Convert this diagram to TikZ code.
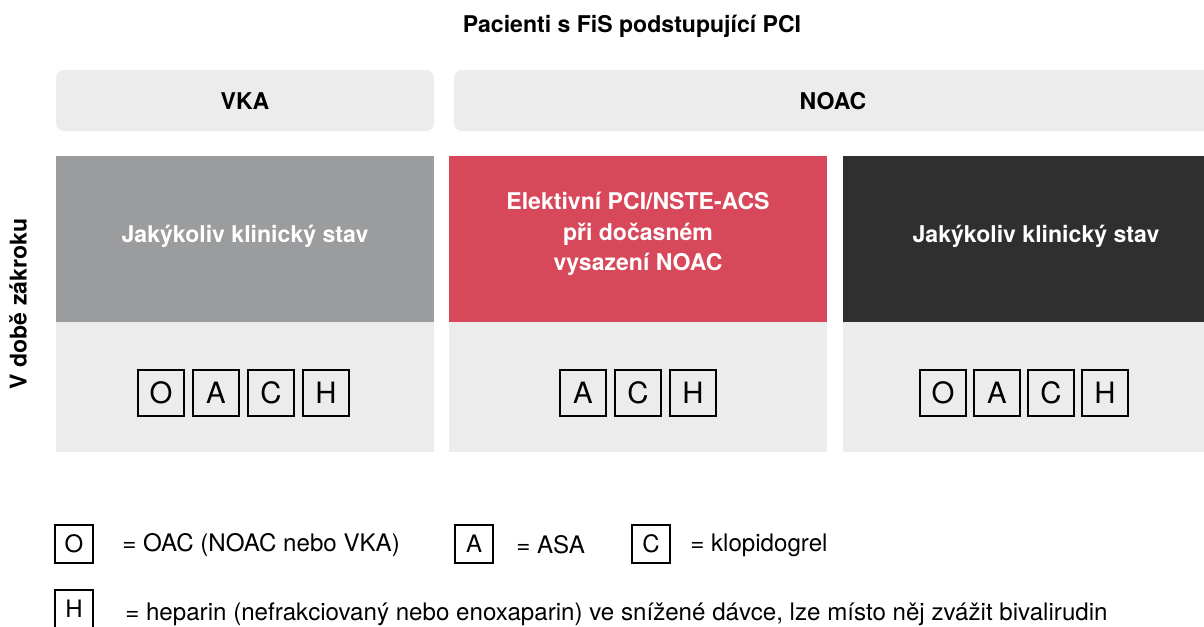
\documentclass[tikz,border=0pt]{standalone}
\usepackage{fontspec}
\setmainfont{TeX Gyre Heros}
\usetikzlibrary{positioning}
\definecolor{lightbg}{HTML}{ECECEC}
\definecolor{midgray}{HTML}{9B9C9E}
\definecolor{redcol}{HTML}{D8485B}
\definecolor{darkcol}{HTML}{2F2F2F}
\tikzset{
  boldtxt/.style={font=\fontsize{17.3}{23}\selectfont\bfseries, inner sep=0.75pt, align=center},
  whitetxt/.style={boldtxt, text=white},
  letbox/.style={draw, line width=1.1pt, minimum size=34.5pt, inner sep=0pt, font=\fontsize{22}{22}\selectfont},
  legbox/.style={draw, line width=0.9pt, minimum width=28.5pt, minimum height=28.5pt, inner sep=0pt, font=\fontsize{18}{18}\selectfont},
  legtxt/.style={anchor=west, inner sep=0pt, font=\fontsize{18.1}{20}\selectfont}
}
\begin{document}
\begin{tikzpicture}[x=0.75pt,y=0.75pt,yscale=-1,xscale=1]
\useasboundingbox (0,0) rectangle (1204,626);

% Title
\node[boldtxt] (title) at (632,26) {Pacienti s FiS podstupující PCI};
\node[boldtxt, rotate=90] (vdobe) at (18,304) {V době zákroku};

% Header boxes
\fill[lightbg, rounded corners=6pt] (56,70) rectangle (434,131);
\node[boldtxt] (vka) at (245,101) {VKA};
\fill[lightbg, rounded corners=6pt] (454,70) rectangle (1240,131);
\node[boldtxt] (noac) at (833,101) {NOAC};

% Columns
\fill[midgray] (56,156) rectangle (434,322);
\fill[lightbg] (56,322) rectangle (434,452);
\fill[redcol] (449,156) rectangle (827,322);
\fill[lightbg] (449,322) rectangle (827,452);
\fill[darkcol] (843,156) rectangle (1204,322);
\fill[lightbg] (843,322) rectangle (1204,452);

\node[whitetxt] (vkastav) at (245,236) {Jakýkoliv klinický stav};
\node[whitetxt] (elektiv) at (638,234) {Elektivní PCI/NSTE-ACS\\při dočasném\\vysazení NOAC};
\node[whitetxt] (noacstav) at (1036,236) {Jakýkoliv klinický stav};

% Letter boxes
\foreach \l [count=\i] in {O,A,C,H}
  \node[letbox] (vk\i) at ({161+55*(\i-1)},393) {\l};
\foreach \l [count=\i] in {A,C,H}
  \node[letbox] (el\i) at ({583+55*(\i-1)},393) {\l};
\foreach \l [count=\i] in {O,A,C,H}
  \node[letbox] (no\i) at ({943+54*(\i-1)},393) {\l};

% Legend
\node[legbox] (lego) at (74,544) {O};
\node[legtxt] (legotxt) at (122,545) {= OAC (NOAC nebo VKA)};
\node[legbox] (lega) at (474,544) {A};
\node[legtxt] (legatxt) at (516,545) {= ASA};
\node[legbox] (legc) at (651,544) {C};
\node[legtxt] (legctxt) at (690,545) {= klopidogrel};
\node[legbox] (legh) at (74,609) {H};
\node[legtxt] (leghtxt) at (125,614) {= heparin (nefrakciovaný nebo enoxaparin) ve snížené dávce, lze místo něj zvážit bivalirudin};

\end{tikzpicture}
\end{document}
